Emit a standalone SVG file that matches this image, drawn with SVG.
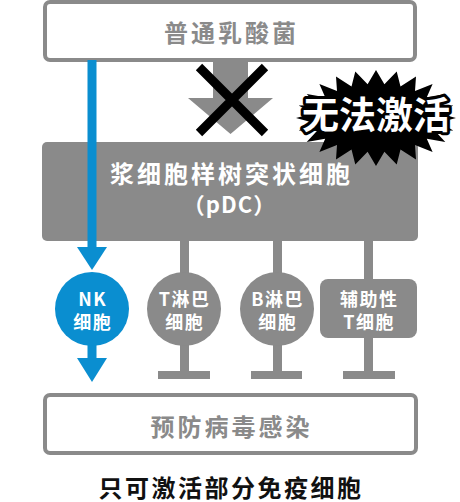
<svg xmlns="http://www.w3.org/2000/svg" width="460" height="502" viewBox="0 0 460 502">
<defs>
<style>
.box{fill:#fff;stroke:#8a8a8a;stroke-width:4}
.gray{fill:#8a8a8a}
.blue{fill:#0a8ed0}
.t{font-family:"Noto Sans CJK SC","Noto Sans",sans-serif;font-weight:700;text-anchor:middle}
.big{font-size:24px;letter-spacing:3px}
.sm{font-size:18px;letter-spacing:1.5px;fill:#fff}
</style>
</defs>
<rect width="460" height="502" fill="#fff"/>
<g id="connectors">
<polygon class="gray" points="213,60 248,60 248,98 273,98 230.5,134 188,98 213,98"/>
<rect class="gray" x="180" y="238" width="9" height="36"/>
<rect class="gray" x="273" y="238" width="9" height="36"/>
<rect class="gray" x="364" y="238" width="9" height="43"/>
<rect class="gray" x="180" y="344" width="9" height="30"/>
<rect class="gray" x="158" y="371" width="52" height="8"/>
<rect class="gray" x="273" y="344" width="9" height="30"/>
<rect class="gray" x="251" y="371" width="51" height="8"/>
<rect class="gray" x="364" y="336" width="9" height="38"/>
<rect class="gray" x="343" y="371" width="52" height="8"/>
</g>
<g id="n-top">
<rect class="box" x="45" y="2" width="370" height="58" rx="5"/>
<text class="t big" x="231.5" y="42" fill="#8a8a8a">普通乳酸菌</text>
</g>
<g id="n-pdc">
<rect class="gray" x="42" y="142" width="376" height="99" rx="5"/>
<text class="t big" x="231.5" y="183" fill="#fff">浆细胞样树突状细胞</text>
<text class="t" x="229.5" y="213" font-size="22" letter-spacing="1" fill="#fff" font-weight="500">（pDC）</text>
</g>
<g id="blue-arrow">
<rect class="blue" x="87.5" y="60" width="9" height="188"/>
<polygon class="blue" points="77,247 107,247 92,270"/>
<rect class="blue" x="87.5" y="340" width="9" height="19"/>
<polygon class="blue" points="77,358 107,358 92,382"/>
</g>
<g id="cross">
<path d="M199,67 L265,133 M265,67 L199,133" stroke="#000" stroke-width="9" fill="none"/>
</g>
<g id="burst">
<polygon fill="#000" points="456,118 439.4,113.6 453.3,105.6 435.1,105 445.3,94 426.8,97.3 432.6,84.1 415,91 416,76.4 400.5,86.6 396.7,71.6 384.4,84.3 376,70 367.6,84.3 355.3,71.6 351.5,86.6 336,76.4 337,91 319.4,84.1 325.2,97.3 306.7,94 316.9,105 298.7,105.6 312.6,113.6 296,118 312.6,122.4 298.7,130.4 316.9,131 306.7,142 325.2,138.7 319.4,151.9 337,145 336,159.6 351.5,149.4 355.3,164.4 367.6,151.7 376,166 384.4,151.7 396.7,164.4 400.5,149.4 416,159.6 415,145 432.6,151.9 426.8,138.7 445.3,142 435.1,131 453.3,130.4 439.4,122.4"/>
<text class="t" x="376" y="129" font-size="37" font-weight="900" fill="#fff" stroke="#000" stroke-width="6" paint-order="stroke" stroke-linejoin="round">无法激活</text>
</g>
<g id="n-nk">
<circle class="blue" cx="92" cy="309" r="37"/>
<text class="t sm" x="92.7" y="306">NK</text>
<text class="t sm" x="92.7" y="329">细胞</text>
</g>
<g id="n-t">
<circle class="gray" cx="184" cy="309" r="37"/>
<text class="t sm" x="184.7" y="306">T淋巴</text>
<text class="t sm" x="184.7" y="329">细胞</text>
</g>
<g id="n-b">
<circle class="gray" cx="277" cy="309" r="37"/>
<text class="t sm" x="277.7" y="306">B淋巴</text>
<text class="t sm" x="277.7" y="329">细胞</text>
</g>
<g id="n-helper">
<rect class="gray" x="320" y="279" width="97" height="59" rx="8"/>
<text class="t sm" x="369.2" y="306">辅助性</text>
<text class="t sm" x="369.2" y="329">T细胞</text>
</g>
<g id="n-bottom">
<rect class="box" x="45" y="395" width="371" height="58" rx="5"/>
<text class="t big" x="231.5" y="436" fill="#8a8a8a">预防病毒感染</text>
</g>
<g id="caption">
<text class="t" x="231" y="497" font-size="24" letter-spacing="2.5" fill="#111">只可激活部分免疫细胞</text>
</g>
</svg>
